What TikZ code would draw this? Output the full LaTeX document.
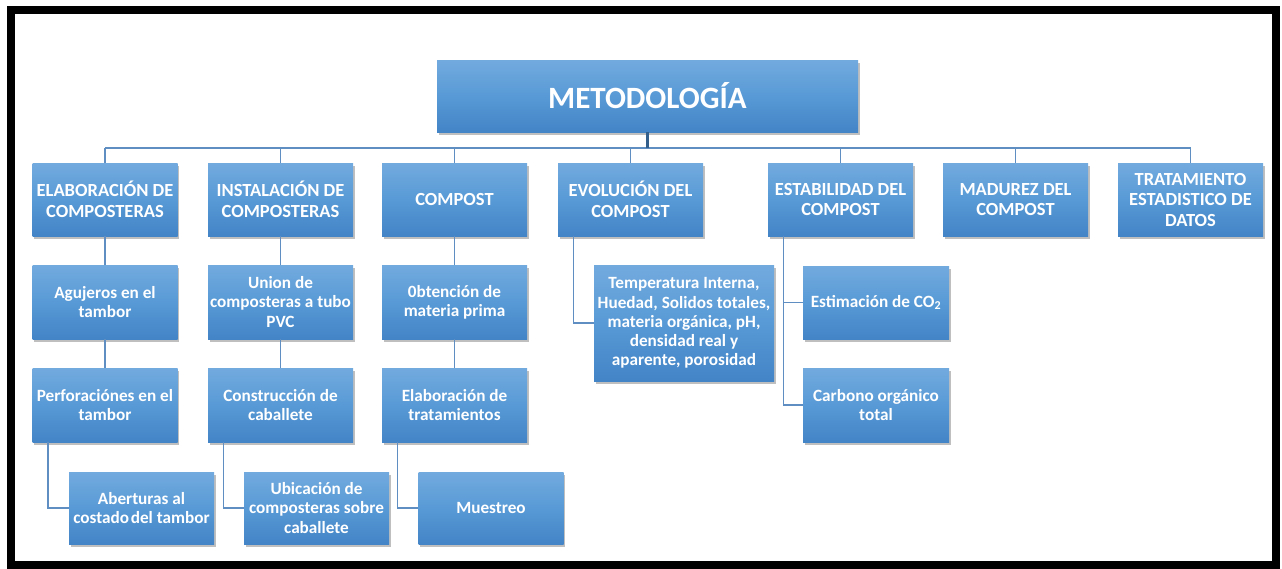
\documentclass[tikz,border=0pt]{standalone}
\usepackage{fontspec}
\setmainfont{Carlito}
\usetikzlibrary{shadows}
\definecolor{btop}{RGB}{114,170,222}
\definecolor{bmid}{RGB}{88,154,214}
\definecolor{bbot}{RGB}{66,132,198}
\definecolor{connc}{RGB}{95,143,194}
\definecolor{stemc}{RGB}{50,95,140}
\begin{document}
\begin{tikzpicture}[x=1pt,y=-1pt,
  card/.style={rectangle, top color=btop, bottom color=bbot, middle color=bmid,
    draw=none, text=white, align=center, inner sep=1pt,
    font=\bfseries\fontsize{17.2}{19.2}\selectfont,
    minimum width=145pt, minimum height=74pt,
    drop shadow={shadow xshift=1.5pt, shadow yshift=-2.5pt, fill=black, opacity=0.25}},
  head/.style={card, font=\bfseries\fontsize{18.5}{20.5}\selectfont, minimum height=73pt},
  conn/.style={draw=connc, line width=1.8pt},
  stem/.style={draw=stemc, line width=2.6pt},
  frame/.style={draw=black, line width=8pt}]
\useasboundingbox (0,0) rectangle (1282,568);
\fill[white] (0,0) rectangle (1282,568);
\draw[frame] (11,10) rectangle (1276,565);

% top
\node[card, minimum width=421pt, minimum height=72pt,
      font=\bfseries\fontsize{31}{34}\selectfont] (meta) at (647.5,96) {METODOLOGÍA};

% level 1
\node[head] (elab)  at (105,199.5)   {ELABORACIÓN DE\\COMPOSTERAS};
\node[head] (inst)  at (280.5,199.5) {INSTALACIÓN DE\\COMPOSTERAS};
\node[head] (comp)  at (454.5,199.5) {COMPOST};
\node[head] (evol)  at (630.5,199.5) {EVOLUCIÓN DEL\\COMPOST};
\node[head] (estab) at (840.5,199.5) {ESTABILIDAD DEL\\COMPOST};
\node[head] (madu)  at (1015.5,199.5) {MADUREZ DEL\\COMPOST};
\node[head] (trat)  at (1190.5,199.5) {TRATAMIENTO\\ESTADISTICO DE\\DATOS};

% level 2/3/4
\node[card] (aguj) at (105,302)   {Agujeros en el\\tambor};
\node[card] (perf) at (105,405)   {Perforaciónes en el\\tambor};
\node[card, minimum height=72pt] (aber) at (141.5,508) {Aberturas al\\costado\hspace{0.1em}del tambor};

\node[card] (union) at (280.5,302) {Union de\\composteras a tubo\\PVC};
\node[card] (cons)  at (280.5,405) {Construcción de\\caballete};
\node[card, minimum height=72pt] (ubic) at (316.5,508) {Ubicación de\\composteras sobre\\caballete};

\node[card] (obt)  at (454.5,302) {0btención de\\materia prima};
\node[card] (elat) at (454.5,405) {Elaboración de\\tratamientos};
\node[card, minimum height=72pt] (mues) at (491,508) {Muestreo};

\node[card, minimum width=180pt, minimum height=116pt] (temp) at (684,323)
  {Temperatura Interna,\\Huedad, Solidos totales,\\materia orgánica, pH,\\densidad real y\\aparente, porosidad};

\node[card, minimum width=146pt, minimum height=73pt] (estim) at (876,302.5) {Estimación de CO\textsubscript{2}};
\node[card, minimum width=146pt] (carb) at (876,405) {Carbono orgánico\\total};

% connectors
\coordinate (bus) at (0,148);
\draw[conn] (elab.north |- bus) -- (trat.north |- bus);
\foreach \n in {elab,inst,comp,evol,estab,madu,trat}
  \draw[conn] (\n.north) -- (\n.north |- bus);
\draw[stem] (meta.south) -- (meta.south |- bus);

\draw[conn] (elab.south) -- (aguj.north);
\draw[conn] (aguj.south) -- (perf.north);
\draw[conn] ([xshift=-57pt]perf.south) |- (aber.west);

\draw[conn] (inst.south) -- (union.north);
\draw[conn] (union.south) -- (cons.north);
\draw[conn] ([xshift=-57pt]cons.south) |- (ubic.west);

\draw[conn] (comp.south) -- (obt.north);
\draw[conn] (obt.south) -- (elat.north);
\draw[conn] ([xshift=-57pt]elat.south) |- (mues.west);

\draw[conn] ([xshift=-57pt]evol.south) |- (temp.west);

\draw[conn] ([xshift=-57pt]estab.south) |- (carb.west);
\draw[conn] ([xshift=-57pt]estab.south) |- (estim.west);
\end{tikzpicture}
\end{document}
